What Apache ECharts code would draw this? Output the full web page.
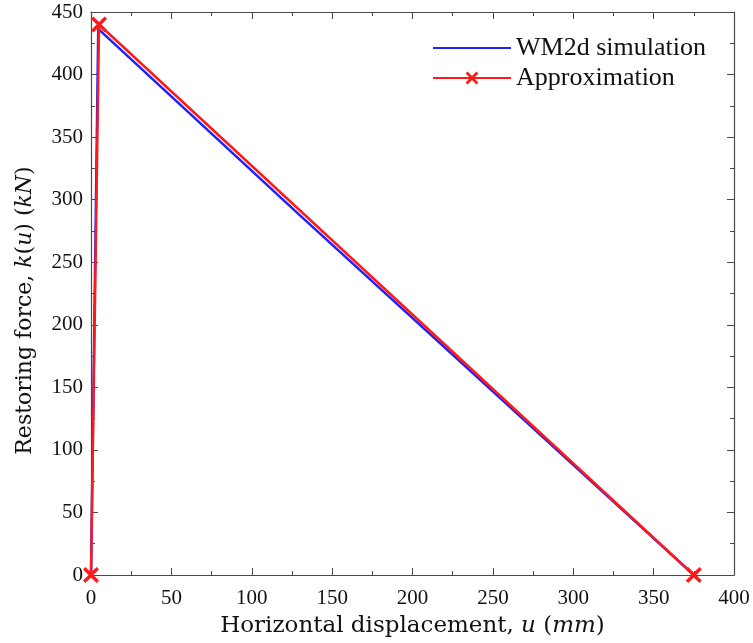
<!DOCTYPE html>
<html>
<head>
<meta charset="utf-8">
<script src="https://cdn.jsdelivr.net/npm/echarts@6/dist/echarts.min.js"></script>
<style>html,body{margin:0;padding:0;background:#fff}#c{width:753px;height:643px}</style>
</head>
<body>
<div id="c"></div>
<script>
// Data
var simX = [0, 4.5, 130, 254, 375];
var simY = [0, 436.5, 287.5, 142, 0];
var apprX = [0, 5, 375];
var apprY = [0, 440, 0];
var seriesNames = ['WM2d simulation', 'Approximation'];

function pairs(xs, ys) { return xs.map(function (x, i) { return [x, ys[i]]; }); }

var chart = echarts.init(document.getElementById('c'));
var serif = '"Liberation Serif", "DejaVu Serif", serif';
var nameFont = '"DejaVu Serif", serif';
var axisColor = '#4a4a4a';
var crossPath = 'path://M3,0 L10,7 L17,0 L20,3 L13,10 L20,17 L17,20 L10,13 L3,20 L0,17 L7,10 L0,3 Z';
var lineIcon = 'path://M0,0 L0.01,0 L0,0.01 Z M0,6.75 L100,6.75 L100,9.25 L0,9.25 Z M0,16 L0.01,16 L0,15.99 Z';

function baseAxis(extra) {
  var a = {
    type: 'value',
    axisLine: { show: true, onZero: false, lineStyle: { color: axisColor, width: 1.2 } },
    axisTick: { show: true, inside: true, length: 7, lineStyle: { color: axisColor, width: 1 } },
    minorTick: { show: true, splitNumber: 2, length: 4, lineStyle: { color: axisColor, width: 1 } },
    splitLine: { show: false },
    minorSplitLine: { show: false },
    axisLabel: { show: false }
  };
  for (var k in extra) a[k] = extra[k];
  return a;
}

var option = {
  animation: false,
  backgroundColor: '#fff',
  grid: { left: 91, right: 19, top: 12, bottom: 68 },
  legend: {
    orient: 'vertical',
    left: 427,
    top: 30,
    itemWidth: 78,
    itemHeight: 16,
    itemGap: 4,
    textStyle: { fontFamily: serif, fontSize: 26, color: '#111' },
    data: [
      { name: seriesNames[0], icon: lineIcon },
      { name: seriesNames[1] }
    ]
  },
  xAxis: [
    baseAxis({
      position: 'bottom', min: 0, max: 400, interval: 50,
      axisLabel: { show: true, margin: 13, fontFamily: serif, fontSize: 21, color: '#111' },
      name: 'Horizontal displacement, {i|u} ({i|mm})',
      nameLocation: 'middle', nameGap: 40,
      nameTextStyle: { fontFamily: nameFont, fontSize: 23, color: '#111',
        rich: { i: { fontFamily: nameFont, fontSize: 23, fontStyle: 'italic', color: '#111' } } }
    }),
    baseAxis({ position: 'top', min: 0, max: 400, interval: 50 })
  ],
  yAxis: [
    baseAxis({
      position: 'left', min: 0, max: 450, interval: 50,
      axisLabel: { show: true, margin: 8, fontFamily: serif, fontSize: 21, color: '#111' },
      name: 'Restoring force, {i|k}({i|u}) ({i|kN})',
      nameLocation: 'middle', nameGap: 55, nameRotate: 90,
      nameTextStyle: { fontFamily: nameFont, fontSize: 22, color: '#111', padding: [0, 34, 0, 0],
        rich: { i: { fontFamily: nameFont, fontSize: 22, fontStyle: 'italic', color: '#111' } } }
    }),
    baseAxis({ position: 'right', min: 0, max: 450, interval: 50 })
  ],
  series: [
    {
      name: seriesNames[0], type: 'line', xAxisIndex: 0, yAxisIndex: 0,
      data: pairs(simX, simY), symbol: 'none',
      lineStyle: { color: '#1f1fff', width: 2.5 },
      itemStyle: { color: '#1f1fff' }
    },
    {
      name: seriesNames[1], type: 'line', xAxisIndex: 0, yAxisIndex: 0,
      data: pairs(apprX, apprY), symbol: crossPath, symbolSize: 16,
      showAllSymbol: true,
      lineStyle: { color: '#ff1a1a', width: 2.5 },
      itemStyle: { color: '#ff1a1a' }
    }
  ]
};
chart.setOption(option);
</script>
</body>
</html>
